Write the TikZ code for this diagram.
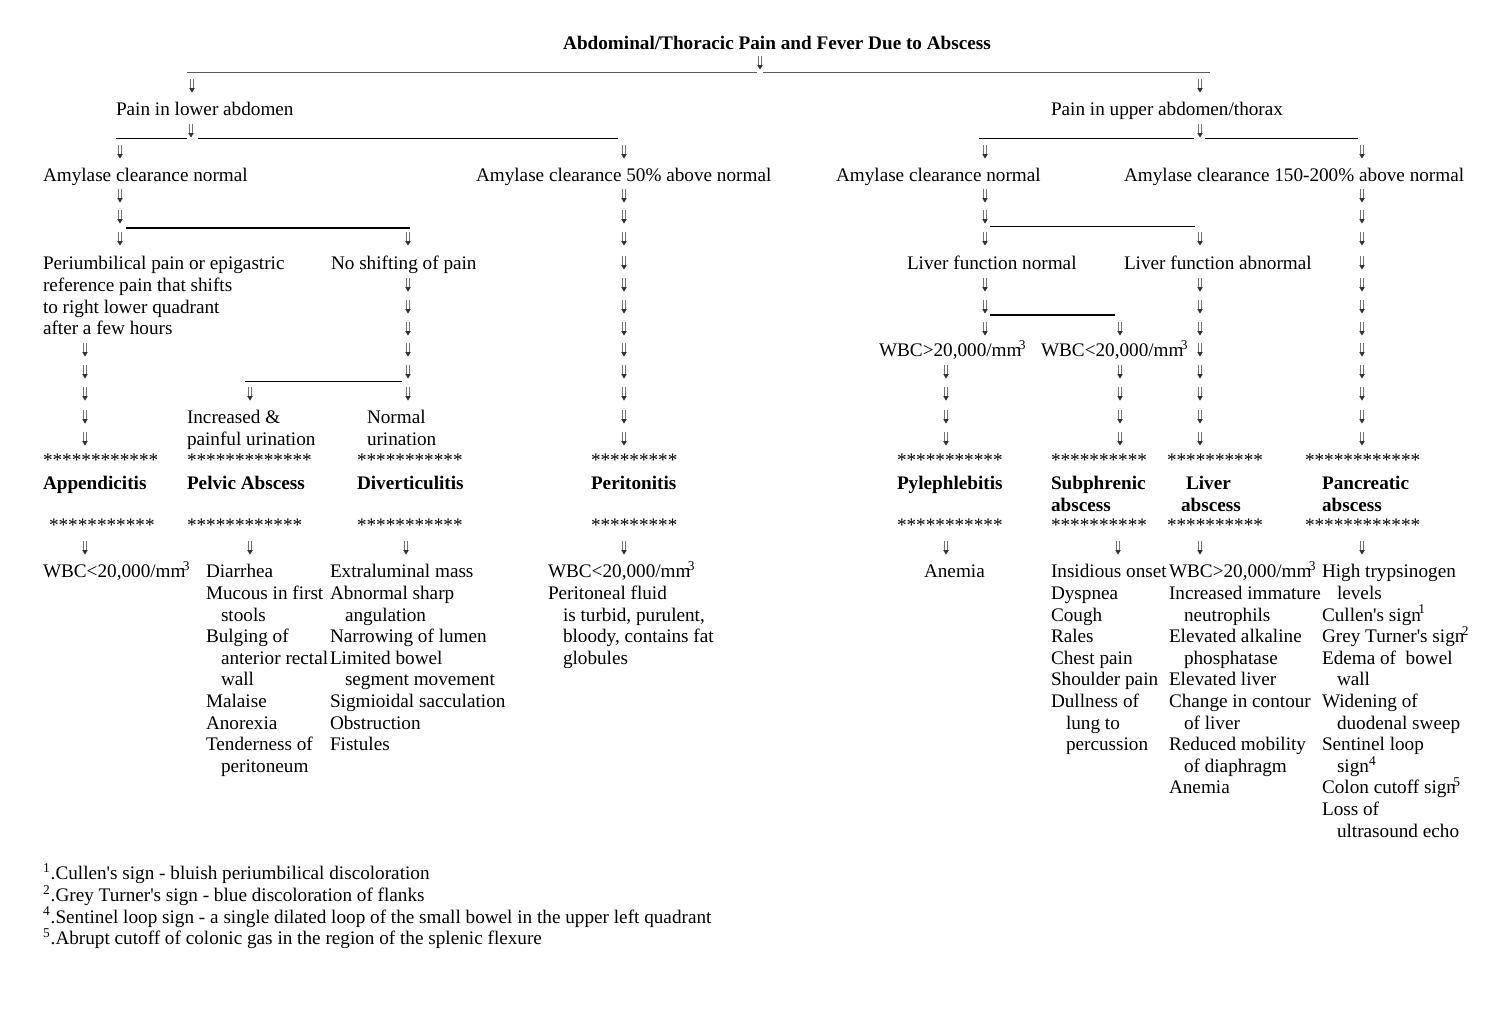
\documentclass[tikz,border=0pt]{standalone}
\usepackage{fontspec}
\setmainfont{Liberation Serif}[Ligatures=TeXOff]
\newcommand\ind{\hspace*{7.5pt}}
\newcommand\osup[1]{\kern-1.3pt\smash{\textsuperscript{#1}}}
\newcommand\nsup[1]{\smash{\textsuperscript{#1}}}
\tikzset{
  darr/.pic={
    \draw[black!55, line width=0.4pt] (-1.4,-7) -- (-1.4,3) (1.4,-7) -- (1.4,3);
    \fill[black!80] (-2.7,2.2) -- (2.7,2.2) -- (0,6.6) -- cycle;
  },
  txt/.style={anchor=north west, align=left, inner sep=0pt, outer sep=0pt,
    font=\fontsize{9.6}{10.8}\selectfont, yshift=4.1pt, execute at begin node=\strut},
  btxt/.style={txt, font=\fontsize{9.6}{10.8}\selectfont\bfseries},
  thin/.style={line width=0.5pt},
  thick2/.style={line width=1pt},
}
\newcommand\arrs[2]{\foreach \yy in {#2} {\pic at (#1,\yy) {darr};}}
\begin{document}
\lineskiplimit=-20pt\relax
\begin{tikzpicture}[x=0.5pt,y=-0.5pt]
\fill[white] (0,0) rectangle (1493,1036);
\useasboundingbox (0,0) rectangle (1493,1036);

% ---- title and top branch
\node[btxt, anchor=north] (title) at (777,43) {Abdominal/Thoracic Pain and Fever Due to Abscess};
\arrs{760}{63}
\draw[thin, black!65] (187,73) -- (757,73) (763,73) -- (1210,73);
\arrs{192}{86}
\arrs{1200}{86}
\node[txt] (low) at (116,109) {Pain in lower abdomen};
\node[txt] (up) at (1051,109) {Pain in upper abdomen/thorax};
\draw[thin] (116,139) -- (187,139) (198,139) -- (618,139);
\draw[thin] (979,139) -- (1194,139) (1205,139) -- (1358,139);
\arrs{191}{131}
\arrs{1200}{131}

% ---- second level
\arrs{120}{152,196,217,239}
\arrs{624}{152,196,217,239,263,285,307,329,350,372,394,417,439,548}
\arrs{985}{152,196,217,239,285,307,329}
\arrs{1362}{152,196,217,239,263,285,307,329,350,372,394,417,439,548}
\node[txt] (acn1) at (43,175) {Amylase clearance normal};
\node[txt] (ac50) at (476,175) {Amylase clearance 50\% above normal};
\node[txt] (acn2) at (836,175) {Amylase clearance normal};
\node[txt] (ac150) at (1124,175) {Amylase clearance 150-200\% above normal};

\draw[thick2] (126,228) -- (410,228);
\draw[thin] (990,227) -- (1195,227);
\arrs{408}{239,285,307,329,350,372,394}
\arrs{1200}{239,285,307,329,350,372,394,417,439,548}

\node[txt] (peri) at (43,263) {\strut Periumbilical pain or epigastric\\reference pain that shifts\\to right lower quadrant\\after a few hours};
\node[txt] (nosh) at (331,263) {No shifting of pain};
\node[txt] (lfn) at (907,263) {Liver function normal};
\node[txt] (lfa) at (1124,263) {Liver function abnormal};

\draw[thick2] (990,315) -- (1115,315);
\arrs{1120}{329,372,394,417,439}
\arrs{946}{372,394,417,439,548}
\node[txt] (wbcg) at (879,350) {WBC>20,000/mm\osup{3}};
\node[txt] (wbcl) at (1041,350) {WBC<20,000/mm\osup{3}};

\arrs{85}{350,372,394,417,439,548}
\draw[thin] (245,382) -- (402,382);
\arrs{250}{394,548}
\node[txt] (inc) at (187,417) {\strut Increased \&\\painful urination};
\node[txt] (norm) at (367,417) {\strut Normal\\urination};

% ---- diagnoses
\node[txt] (s1a) at (43,460) {************};
\node[txt] (s2a) at (187,460) {*************};
\node[txt] (s3a) at (357,460) {***********};
\node[txt] (s4a) at (591,460) {*********};
\node[txt] (s5a) at (897,460) {***********};
\node[txt] (s6a) at (1051,460) {**********};
\node[txt] (s7a) at (1167,460) {**********};
\node[txt] (s8a) at (1305,460) {************};

\node[btxt] (appe) at (43,483) {Appendicitis};
\node[btxt] (pelv) at (187,483) {Pelvic Abscess};
\node[btxt] (dive) at (357,483) {Diverticulitis};
\node[btxt] (peri2) at (591,483) {Peritonitis};
\node[btxt] (pyle) at (897,483) {Pylephlebitis};
\node[btxt] (subp) at (1051,483) {\strut Subphrenic\\abscess};
\node[btxt] (live) at (1181,483) {\strut\hspace*{2.5pt}Liver\\abscess};
\node[btxt] (panc) at (1322,483) {\strut Pancreatic\\abscess};

\node[txt] (s1b) at (49,525) {***********};
\node[txt] (s2b) at (187,525) {************};
\node[txt] (s3b) at (357,525) {***********};
\node[txt] (s4b) at (591,525) {*********};
\node[txt] (s5b) at (897,525) {***********};
\node[txt] (s6b) at (1051,525) {**********};
\node[txt] (s7b) at (1167,525) {**********};
\node[txt] (s8b) at (1305,525) {************};

\arrs{406}{548}
\arrs{1118}{548}

% ---- findings
\node[txt] (f1) at (43,571) {WBC<20,000/mm\osup{3}};
\node[txt] (f2) at (206,571) {\strut Diarrhea\\Mucous in first\\\ind stools\\Bulging of\\\ind anterior rectal\\\ind wall\\Malaise\\Anorexia\\Tenderness of\\\ind peritoneum};
\node[txt] (f3) at (330,571) {\strut Extraluminal mass\\Abnormal sharp\\\ind angulation\\Narrowing of lumen\\Limited bowel\\\ind segment movement\\Sigmioidal sacculation\\Obstruction\\Fistules};
\node[txt] (f4) at (548,571) {\strut WBC<20,000/mm\osup{3}\\Peritoneal fluid\\\ind is turbid, purulent,\\\ind bloody, contains fat\\\ind globules};
\node[txt] (f5) at (924,571) {Anemia};
\node[txt] (f6) at (1051,571) {\strut Insidious onset\\Dyspnea\\Cough\\Rales\\Chest pain\\Shoulder pain\\Dullness of\\\ind lung to\\\ind percussion};
\node[txt] (f7) at (1169,571) {\strut WBC>20,000/mm\osup{3}\\Increased immature\\\ind neutrophils\\Elevated alkaline\\\ind phosphatase\\Elevated liver\\Change in contour\\\ind of liver\\Reduced mobility\\\ind of diaphragm\\Anemia};
\node[txt] (f8) at (1322,571) {\strut High trypsinogen\\\ind levels\\Cullen's sign\osup{1}\\Grey Turner's sign\osup{2}\\Edema of\ \ bowel\\\ind wall\\Widening of\\\ind duodenal sweep\\Sentinel loop\\\ind sign\nsup{4}\\Colon cutoff sign\osup{5}\\Loss of\\\ind ultrasound echo};

% ---- footnotes
\node[txt] (notes) at (43,873) {\strut\nsup{1}.Cullen's sign - bluish periumbilical discoloration\\\nsup{2}.Grey Turner's sign - blue discoloration of flanks\\\nsup{4}.Sentinel loop sign - a single dilated loop of the small bowel in the upper left quadrant\\\nsup{5}.Abrupt cutoff of colonic gas in the region of the splenic flexure};
\end{tikzpicture}
\end{document}
